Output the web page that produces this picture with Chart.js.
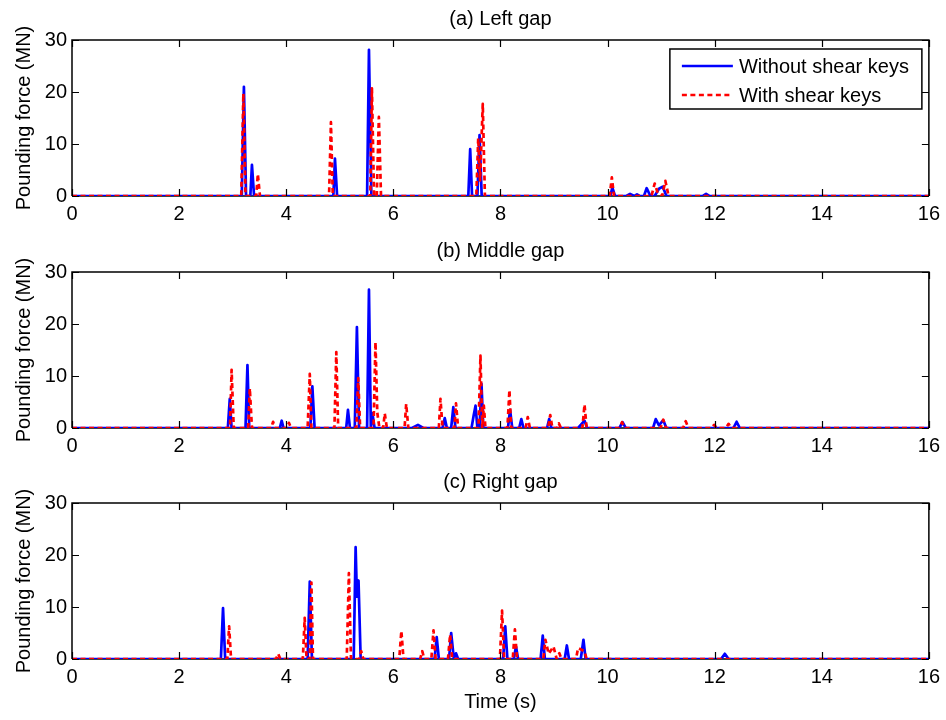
<!DOCTYPE html>
<html>
<head>
<meta charset="utf-8">
<script src="https://cdn.jsdelivr.net/npm/chart.js@4.4.1/dist/chart.umd.min.js"></script>
<style>
  html, body { margin: 0; padding: 0; background: #fff; width: 946px; height: 720px; overflow: hidden; }
  canvas { position: absolute; left: 0; }
</style>
</head>
<body>
<canvas id="panelLeft" width="946" height="232" style="top:0px"></canvas>
<canvas id="panelMiddle" width="946" height="231" style="top:232px"></canvas>
<canvas id="panelRight" width="946" height="257" style="top:463px"></canvas>
<script>
// Pounding force time histories, [time (s), force (MN)]
const leftWithout = [
  [0,0],
  [3.17,0],[3.21,21.0],[3.25,0],
  [3.33,0],[3.36,6.0],[3.40,0],
  [4.88,0],[4.91,7.2],[4.95,0],
  [5.51,0],[5.545,28.1],[5.59,0],
  [7.40,0],[7.435,9.0],[7.47,0],
  [7.57,0],[7.61,11.7],[7.65,0],
  [10.05,0],[10.09,1.6],[10.14,0],
  [10.35,0],[10.42,0.4],[10.50,0],[10.55,0.3],[10.60,0],
  [10.68,0],[10.73,1.5],[10.80,0],
  [10.88,0],[10.96,1.4],[11.03,1.8],[11.10,0],
  [11.78,0],[11.84,0.4],[11.90,0],
  [16,0]
];
const leftWith = [
  [0,0],
  [3.16,0],[3.20,19.7],[3.24,0],
  [3.44,0],[3.47,4.2],[3.51,0],
  [4.80,0],[4.835,14.2],[4.87,0],
  [5.57,0],[5.60,20.7],[5.64,0],
  [5.69,0],[5.73,15.2],[5.77,0],
  [7.55,0],[7.585,11.1],[7.62,3.0],[7.67,17.7],[7.71,0],
  [10.04,0],[10.08,3.6],[10.12,0],
  [10.82,0],[10.88,2.4],[10.94,0.5],[11.02,0],[11.08,2.9],[11.14,0],
  [16,0]
];
const middleWithout = [
  [0,0],
  [2.91,0],[2.946,5.6],[2.98,0],
  [3.24,0],[3.276,12.1],[3.31,0],
  [3.88,0],[3.916,1.4],[3.95,0],
  [4.45,0],[4.488,8.0],[4.53,0],
  [5.12,0],[5.153,3.5],[5.19,0],
  [5.28,0],[5.32,19.4],[5.36,0],
  [5.51,0],[5.545,26.6],[5.58,0],[5.61,2.8],[5.65,0],
  [6.35,0],[6.46,0.6],[6.56,0],
  [6.92,0],[6.96,1.9],[7.00,0],
  [7.08,0],[7.12,4.0],[7.16,0],
  [7.46,0],[7.50,2.4],[7.535,4.3],[7.57,0],
  [7.61,0],[7.646,8.5],[7.68,0],
  [8.14,0],[8.18,3.5],[8.22,0],
  [8.35,0],[8.39,1.7],[8.43,0],
  [8.87,0],[8.91,1.7],[8.95,0],
  [9.45,0],[9.50,0.6],[9.57,1.4],[9.62,0],
  [10.22,0],[10.28,1.1],[10.34,0],
  [10.85,0],[10.90,1.7],[10.96,0.5],[11.04,1.5],[11.10,0],
  [12.35,0],[12.41,1.2],[12.47,0],
  [16,0]
];
const middleWith = [
  [0,0],
  [2.95,0],[2.98,11.2],[3.02,0],
  [3.29,0],[3.32,7.6],[3.36,0],
  [3.72,0],[3.754,1.2],[3.79,0],
  [4.02,0],[4.05,1.0],[4.09,0],
  [4.40,0],[4.44,10.4],[4.47,0],
  [4.90,0],[4.935,14.6],[4.97,0],
  [5.31,0],[5.345,9.6],[5.38,0],
  [5.63,0],[5.667,16.5],[5.70,3.0],[5.74,0],
  [5.81,0],[5.84,2.8],[5.88,0],
  [6.21,0],[6.24,4.6],[6.28,0],
  [6.85,0],[6.88,5.6],[6.92,0],
  [7.14,0],[7.17,4.75],[7.21,0],
  [7.59,0],[7.627,13.9],[7.66,0],[7.69,4.3],[7.72,0],
  [8.13,0],[8.168,7.3],[8.20,0],
  [8.47,0],[8.51,2.1],[8.55,0],
  [8.89,0],[8.93,2.5],[8.97,0],
  [9.06,0],[9.09,0.9],[9.13,0],
  [9.53,0],[9.57,4.5],[9.61,0],
  [10.22,0],[10.27,1.1],[10.32,0],
  [10.99,0],[11.04,1.6],[11.09,0],
  [11.41,0],[11.46,1.3],[11.51,0],
  [11.94,0],[11.99,0.6],[12.04,0],
  [12.21,0],[12.26,0.8],[12.31,0],
  [16,0]
];
const rightWithout = [
  [0,0],
  [2.78,0],[2.82,9.8],[2.86,0],
  [4.40,0],[4.44,14.9],[4.48,0],
  [5.26,0],[5.296,21.5],[5.32,12.0],[5.35,15.1],[5.39,0],
  [6.77,0],[6.81,4.2],[6.85,0],
  [7.04,0],[7.08,5.0],[7.13,0],[7.17,1.1],[7.21,0],
  [8.05,0],[8.09,6.3],[8.13,0],
  [8.25,0],[8.29,2.4],[8.33,0],
  [8.75,0],[8.79,4.5],[8.83,0],
  [9.20,0],[9.24,2.6],[9.28,0],
  [9.50,0],[9.55,3.7],[9.59,0],
  [12.12,0],[12.19,1.0],[12.26,0],
  [16,0]
];
const rightWith = [
  [0,0],
  [2.90,0],[2.934,6.3],[2.97,0],
  [3.81,0],[3.85,1.0],[3.89,0],
  [4.31,0],[4.345,7.9],[4.38,0],
  [4.44,0],[4.47,14.7],[4.50,0],
  [5.13,0],[5.17,16.5],[5.21,0],
  [5.36,0],[5.40,1.5],[5.44,0],
  [6.11,0],[6.15,5.4],[6.19,0],
  [6.50,0],[6.54,1.5],[6.58,0],
  [6.71,0],[6.75,5.5],[6.79,0],
  [7.02,0],[7.06,4.7],[7.10,0],
  [7.99,0],[8.03,9.3],[8.07,0],
  [8.23,0],[8.27,5.7],[8.31,0],
  [8.80,0],[8.84,3.7],[8.90,1.0],[8.99,2.4],[9.05,0],[9.10,1.1],[9.14,0],
  [9.41,0],[9.45,2.1],[9.57,1.5],[9.61,0],
  [16,0]
];

const seriesNames = ['Without shear keys', 'With shear keys'];
const panelTitles = ['(a) Left gap', '(b) Middle gap', '(c) Right gap'];
const yAxisTitle = 'Pounding force (MN)';
const xAxisTitle = 'Time (s)';

const FONT = "'Liberation Sans', Arial, Helvetica, sans-serif";

// Boxed axes with inward ticks, panel title, axis titles and the legend box
const panelFrame = {
  id: 'panelFrame',
  beforeDatasetsDraw(chart) {
    const { ctx, chartArea: a } = chart;
    ctx.save();
    ctx.strokeStyle = '#000';
    ctx.lineWidth = 1.5;
    ctx.beginPath();
    ctx.moveTo(a.left, a.bottom);
    ctx.lineTo(a.right, a.bottom);
    ctx.stroke();
    ctx.restore();
  },
  afterDraw(chart, args, opts) {
    const { ctx, chartArea: a, scales: { x, y } } = chart;
    ctx.save();
    ctx.strokeStyle = '#000';
    ctx.lineWidth = 1.5;
    ctx.beginPath();
    ctx.moveTo(a.left, a.bottom);
    ctx.lineTo(a.left, a.top);
    ctx.lineTo(a.right, a.top);
    ctx.lineTo(a.right, a.bottom);
    ctx.stroke();

    const tl = 7;
    ctx.lineWidth = 1.2;
    ctx.beginPath();
    x.ticks.forEach(t => {
      const px = Math.round(x.getPixelForValue(t.value)) + 0.5;
      ctx.moveTo(px, a.bottom); ctx.lineTo(px, a.bottom - tl);
      ctx.moveTo(px, a.top); ctx.lineTo(px, a.top + tl);
    });
    y.ticks.forEach(t => {
      const py = Math.round(y.getPixelForValue(t.value)) + 0.5;
      ctx.moveTo(a.left, py); ctx.lineTo(a.left + tl, py);
      ctx.moveTo(a.right, py); ctx.lineTo(a.right - tl, py);
    });
    ctx.stroke();

    ctx.fillStyle = '#000';
    ctx.font = '20px ' + FONT;
    ctx.textAlign = 'center';
    ctx.textBaseline = 'middle';
    ctx.fillText(opts.title, (a.left + a.right) / 2, a.top - 21);

    if (opts.xTitle) {
      ctx.fillText(opts.xTitle, (a.left + a.right) / 2, a.bottom + 43);
    }

    ctx.save();
    ctx.translate(24, (a.top + a.bottom) / 2);
    ctx.rotate(-Math.PI / 2);
    ctx.fillText(yAxisTitle, 0, 0);
    ctx.restore();

    if (opts.legend) {
      const bx = a.right - 259, by = a.top + 9, bw = 252, bh = 60;
      ctx.fillStyle = '#fff';
      ctx.fillRect(bx, by, bw, bh);
      ctx.lineWidth = 1.5;
      ctx.strokeStyle = '#000';
      ctx.strokeRect(bx, by, bw, bh);
      ctx.textAlign = 'left';
      chart.data.datasets.forEach((ds, i) => {
        const ry = by + 17 + i * 29;
        ctx.strokeStyle = ds.borderColor;
        ctx.lineWidth = ds.borderWidth;
        ctx.setLineDash(ds.borderDash || []);
        ctx.beginPath();
        ctx.moveTo(bx + 12, ry);
        ctx.lineTo(bx + 63, ry);
        ctx.stroke();
        ctx.setLineDash([]);
        ctx.fillStyle = '#000';
        ctx.fillText(ds.label, bx + 69, ry + 1);
      });
    }
    ctx.restore();
  }
};

function toPoints(pairs) {
  return pairs.map(([t, f]) => ({ x: t, y: f }));
}

function makePanel(id, title, without, withKeys, extra) {
  return new Chart(document.getElementById(id), {
    type: 'line',
    data: {
      datasets: [
        { label: seriesNames[0], data: toPoints(without), borderColor: '#0000ff',
          borderWidth: 2.7, borderJoinStyle: 'round', pointRadius: 0, tension: 0, order: 2 },
        { label: seriesNames[1], data: toPoints(withKeys), borderColor: '#ff0000',
          borderWidth: 2.7, borderJoinStyle: 'round', borderDash: [5, 3.5],
          pointRadius: 0, tension: 0, order: 1 }
      ]
    },
    options: {
      responsive: false,
      animation: false,
      events: [],
      layout: { padding: { top: 40, right: 16, left: 0, bottom: 0 } },
      plugins: {
        legend: { display: false },
        tooltip: { enabled: false },
        panelFrame: Object.assign({ title }, extra || {})
      },
      scales: {
        x: {
          type: 'linear', min: 0, max: 16,
          grid: { display: false, drawTicks: false },
          border: { display: false },
          ticks: { stepSize: 2, color: '#000', font: { size: 20, family: FONT },
                   padding: 6, maxRotation: 0, autoSkip: false },
          afterFit(s) { s.height = s.chart.height - 196; }
        },
        y: {
          min: 0, max: 30,
          grid: { display: false, drawTicks: false },
          border: { display: false },
          ticks: { stepSize: 10, color: '#000', font: { size: 20, family: FONT }, padding: 5 },
          afterFit(s) { s.width = 72; }
        }
      }
    },
    plugins: [panelFrame]
  });
}

makePanel('panelLeft', panelTitles[0], leftWithout, leftWith, { legend: true });
makePanel('panelMiddle', panelTitles[1], middleWithout, middleWith);
makePanel('panelRight', panelTitles[2], rightWithout, rightWith, { xTitle: xAxisTitle });
</script>
</body>
</html>
